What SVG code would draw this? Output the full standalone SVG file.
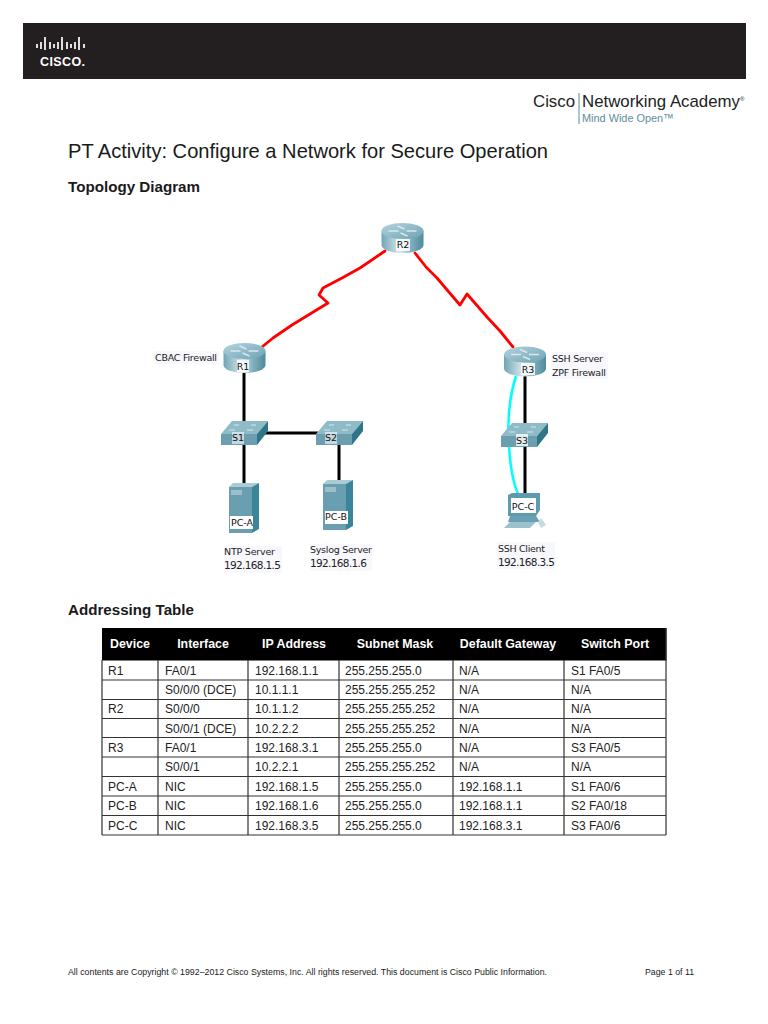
<svg xmlns="http://www.w3.org/2000/svg" width="768" height="1024" viewBox="0 0 768 1024">
<style>
text{font-family:"Liberation Sans",Arial,sans-serif;fill:#1a1a1a}
.c{font-size:12px;fill:#222}
.h{font-size:12.4px;font-weight:bold;fill:#fff;text-anchor:middle}
.g{stroke:#333;stroke-width:1.2;fill:none}
.l{font-family:"DejaVu Sans",sans-serif;font-size:9.5px;fill:#222}
.ip{font-family:"DejaVu Sans",sans-serif;font-size:10.5px;fill:#222}
.n{font-family:"DejaVu Sans",sans-serif;font-size:9.5px;fill:#111;text-anchor:middle}
.s{fill:none;stroke:#f00;stroke-width:2.8;stroke-linejoin:round;stroke-linecap:round}
.e{fill:none;stroke:#000;stroke-width:3}
.x{fill:none;stroke:#0ff;stroke-width:2.6}
.bg{fill:#f8f8fc}
</style>
<defs>
<linearGradient id="rg" x1="0" x2="1" y1="0" y2="0"><stop offset="0" stop-color="#6fa5b5"/><stop offset=".45" stop-color="#dbe9ee"/><stop offset=".7" stop-color="#7fb0bf"/><stop offset="1" stop-color="#4f8a9c"/></linearGradient>
<linearGradient id="rt" x1="0" x2="1" y1="0" y2="1"><stop offset="0" stop-color="#b4d4de"/><stop offset="1" stop-color="#6ea3b4"/></linearGradient>
<g id="router">
<path d="M-21 -7V7A21 8 0 0 0 21 7V-7Z" fill="url(#rg)"/>
<ellipse cx="0" cy="-7" rx="21" ry="8" fill="url(#rt)"/>
<path d="M-14 -7H-4M4 -7H14M-5 -12L2 -9M5 -2L-2 -5" stroke="#d8e8ee" stroke-width="1.4" fill="none"/>
</g>
<g id="switch">
<path d="M0 13L11 0H47L36 13Z" fill="#8fbac7"/>
<path d="M0 13H36V24H0Z" fill="#6b9fb0"/>
<path d="M36 13L47 0V10L36 24Z" fill="#2f7487"/>
<path d="M13 4H18M30 4H35M8 9H14M26 9H32" stroke="#d8e8ee" stroke-width="1.2"/>
</g>
<g id="server">
<path d="M0 4L4 0H30L23 4Z" fill="#a9cbd6"/>
<rect x="0" y="4" width="23" height="46" fill="#6a9fb1"/>
<path d="M23 4L30 0V46L23 50Z" fill="#3b8598"/>
<rect x="2" y="7" width="11" height="5" fill="#9dbfca"/>
</g>
</defs>

<rect x="23" y="23" width="723" height="56" fill="#231f20"/>
<g id="cisco-logo">
<path d="M37 44v4M41 42v7M45 37v13M50 42v7M54 44v4M58 42v7M62 37v13M67 42v7M71 44v4M75 42v7M79 37v13M84 44v4" stroke="#fff" stroke-width="1.7" fill="none"/>
<text x="40" y="66" font-size="12.500" font-weight="bold" style="fill:#fff" textLength="45" lengthAdjust="spacing">CISCO.</text>
</g>
<g id="academy-logo">
<text x="533" y="107" font-size="17" style="fill:#222" textLength="42" lengthAdjust="spacingAndGlyphs">Cisco</text>
<path d="M579 93V124" stroke="#5a8a9a"/>
<text x="582" y="107" font-size="17" style="fill:#222" textLength="158" lengthAdjust="spacingAndGlyphs">Networking Academy</text>
<text x="740" y="101" font-size="6" style="fill:#222">®</text>
<text x="582" y="122" font-size="11.500" style="fill:#5d8d9d" textLength="92" lengthAdjust="spacingAndGlyphs">Mind Wide Open™</text>
</g>

<text x="68" y="158" font-size="21" textLength="480" lengthAdjust="spacingAndGlyphs">PT Activity: Configure a Network for Secure Operation</text>
<text x="68" y="192" font-size="14.500" font-weight="bold" textLength="132" lengthAdjust="spacingAndGlyphs">Topology Diagram</text>

<g id="connectors">
<path class="s" d="M385 251L360 268L342 278L323 288L319 295L328 303L292 325L273 338L262 347"/>
<path class="s" d="M415 253L426 267L437 278L448 291L460 305L467 294L487 317L500 331L513 347"/>
<path class="e" d="M244 373V422M263 433H318M244 445V484M339 445V481M525 376V424M525 445V494"/>
<path class="x" d="M516 376C510 395 507 420 509 445C510 465 512 480 518 494"/>
</g>

<g id="R1"><use href="#router" x="244.500" y="358"/><rect x="237" y="360" width="12" height="12" fill="#fff" opacity=".85"/><text class="n" x="243" y="370">R1</text><rect class="bg" x="154" y="351" width="65" height="13"/><text class="l" x="155" y="361" textLength="62">CBAC Firewall</text></g>
<g id="R2"><use href="#router" x="402.500" y="238"/><rect x="396" y="239" width="14" height="12" fill="#fff" opacity=".85"/><text class="n" x="403" y="248">R2</text></g>
<g id="R3"><use href="#router" x="525" y="361.500"/><rect x="521" y="363" width="14" height="12" fill="#fff" opacity=".85"/><text class="n" x="528" y="373">R3</text><rect class="bg" x="551" y="352" width="57" height="27"/><text class="l" x="552" y="362" textLength="51">SSH Server</text><text class="l" x="552" y="376" textLength="54">ZPF Firewall</text></g>
<g id="S1"><use href="#switch" x="221" y="421"/><rect x="232" y="432" width="12" height="12" fill="#fff" opacity=".6"/><text class="n" x="238" y="441">S1</text></g>
<g id="S2"><use href="#switch" x="316" y="421"/><rect x="325" y="432" width="12" height="12" fill="#fff" opacity=".6"/><text class="n" x="331" y="441">S2</text></g>
<g id="S3"><use href="#switch" x="501" y="423"/><rect x="516" y="434" width="12" height="12" fill="#fff" opacity=".8"/><text class="n" x="522" y="444">S3</text></g>
<g id="PC-A"><use href="#server" x="229" y="483"/><rect x="230" y="516" width="23" height="13" fill="#fff"/><text class="n" x="242" y="526">PC-A</text><rect class="bg" x="224" y="546" width="58" height="27"/><text class="l" x="224" y="555" textLength="51">NTP Server</text><text class="ip" x="224" y="569" textLength="57">192.168.1.5</text></g>
<g id="PC-B"><use href="#server" x="323" y="480"/><rect x="325" y="511" width="23" height="13" fill="#fff"/><text class="n" x="336" y="520">PC-B</text><rect class="bg" x="310" y="544" width="62" height="27"/><text class="l" x="310" y="553" textLength="62">Syslog Server</text><text class="ip" x="310" y="567" textLength="57">192.168.1.6</text></g>
<g id="PC-C">
<path d="M508 495L512 493H540V510L536 516H508Z" fill="#5d9bad"/>
<rect x="511" y="498" width="25" height="15" fill="#fff"/>
<path d="M510 516H536L540 522L508 522Z" fill="#6a9fb1"/>
<path d="M504 528L510 522H536L530 528Z" fill="#9cc1cc"/>
<path d="M541 518L546 525L541 528L538 522Z" fill="#c5dbe2"/>
<text class="n" x="523" y="510">PC-C</text>
<rect class="bg" x="497" y="542" width="58" height="27"/>
<text class="l" x="498" y="552" textLength="47">SSH Client</text><text class="ip" x="498" y="566" textLength="57">192.168.3.5</text>
</g>

<text x="68" y="615" font-size="14.500" font-weight="bold" textLength="126" lengthAdjust="spacingAndGlyphs">Addressing Table</text>

<g id="addressing-table">
<rect x="102" y="628" width="564.500" height="32.500" fill="#000"/>
<path class="g" d="M102 660V835M158 660V835M248 660V835M339 660V835M453 660V835M564 660V835M666 628V835M102 680H666M102 699.500H666M102 718.500H666M102 737.500H666M102 757H666M102 776.500H666M102 796H666M102 815.500H666M102 835H666"/>
<text class="h" x="130" y="648">Device</text><text class="h" x="203" y="648">Interface</text><text class="h" x="294" y="648">IP Address</text><text class="h" x="395" y="648">Subnet Mask</text><text class="h" x="508" y="648">Default Gateway</text><text class="h" x="615" y="648">Switch Port</text>
<text class="c" x="108" y="675">R1</text><text class="c" x="165" y="675">FA0/1</text><text class="c" x="255" y="675">192.168.1.1</text><text class="c" x="345" y="675">255.255.255.0</text><text class="c" x="459" y="675">N/A</text><text class="c" x="571" y="675">S1 FA0/5</text>
<text class="c" x="165" y="694">S0/0/0 (DCE)</text><text class="c" x="255" y="694">10.1.1.1</text><text class="c" x="345" y="694">255.255.255.252</text><text class="c" x="459" y="694">N/A</text><text class="c" x="571" y="694">N/A</text>
<text class="c" x="108" y="713">R2</text><text class="c" x="165" y="713">S0/0/0</text><text class="c" x="255" y="713">10.1.1.2</text><text class="c" x="345" y="713">255.255.255.252</text><text class="c" x="459" y="713">N/A</text><text class="c" x="571" y="713">N/A</text>
<text class="c" x="165" y="733">S0/0/1 (DCE)</text><text class="c" x="255" y="733">10.2.2.2</text><text class="c" x="345" y="733">255.255.255.252</text><text class="c" x="459" y="733">N/A</text><text class="c" x="571" y="733">N/A</text>
<text class="c" x="108" y="752">R3</text><text class="c" x="165" y="752">FA0/1</text><text class="c" x="255" y="752">192.168.3.1</text><text class="c" x="345" y="752">255.255.255.0</text><text class="c" x="459" y="752">N/A</text><text class="c" x="571" y="752">S3 FA0/5</text>
<text class="c" x="165" y="771">S0/0/1</text><text class="c" x="255" y="771">10.2.2.1</text><text class="c" x="345" y="771">255.255.255.252</text><text class="c" x="459" y="771">N/A</text><text class="c" x="571" y="771">N/A</text>
<text class="c" x="108" y="791">PC-A</text><text class="c" x="165" y="791">NIC</text><text class="c" x="255" y="791">192.168.1.5</text><text class="c" x="345" y="791">255.255.255.0</text><text class="c" x="459" y="791">192.168.1.1</text><text class="c" x="571" y="791">S1 FA0/6</text>
<text class="c" x="108" y="810">PC-B</text><text class="c" x="165" y="810">NIC</text><text class="c" x="255" y="810">192.168.1.6</text><text class="c" x="345" y="810">255.255.255.0</text><text class="c" x="459" y="810">192.168.1.1</text><text class="c" x="571" y="810">S2 FA0/18</text>
<text class="c" x="108" y="830">PC-C</text><text class="c" x="165" y="830">NIC</text><text class="c" x="255" y="830">192.168.3.5</text><text class="c" x="345" y="830">255.255.255.0</text><text class="c" x="459" y="830">192.168.3.1</text><text class="c" x="571" y="830">S3 FA0/6</text>
</g>

<text x="68" y="975" font-size="8.500" textLength="479" lengthAdjust="spacingAndGlyphs">All contents are Copyright © 1992–2012 Cisco Systems, Inc. All rights reserved. This document is Cisco Public Information.</text>
<text x="645" y="975" font-size="8.500" textLength="49" lengthAdjust="spacingAndGlyphs">Page 1 of 11</text>
</svg>
